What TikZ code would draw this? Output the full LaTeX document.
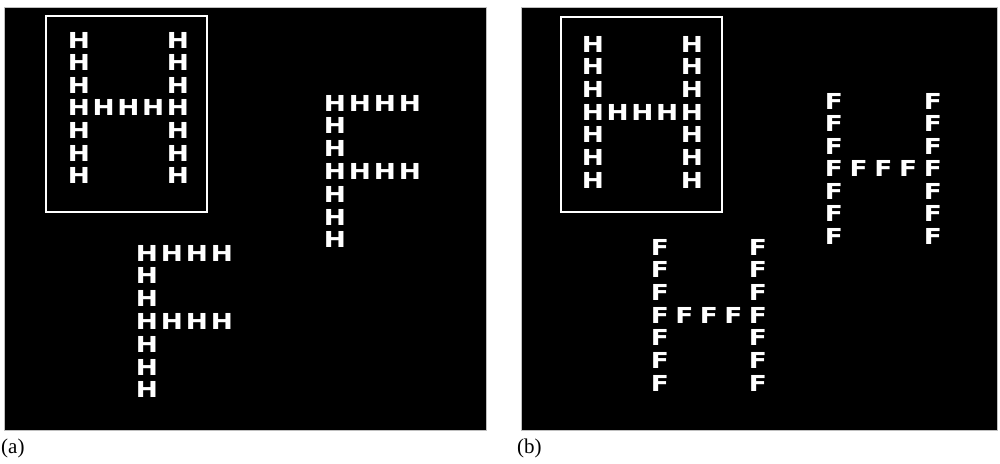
\documentclass[tikz,border=0pt]{standalone}
\usepackage{fontspec}
\newfontfamily\letterfont[FakeStretch=1.2]{DejaVu Sans Bold}
\newfontfamily\labelfont{Liberation Serif}
\begin{document}
\begin{tikzpicture}[x=1pt,y=-1pt,
  panel/.style={fill=black, draw=gray!50, line width=0.6pt},
  framebox/.style={draw=white, line width=2pt},
  ltr/.style={text=white, font=\letterfont\fontsize{22}{22}\selectfont, inner sep=0pt, anchor=center},
  lbl/.style={font=\labelfont\fontsize{21}{21}\selectfont, inner sep=0pt, anchor=west}]
\useasboundingbox (0,0) rectangle (1000,463);
\fill[white] (0,0) rectangle (1000,463);
% ---------- panel (a)
\draw[panel] (4,7) rectangle (486,430);
\draw[framebox] (46,16) rectangle (207,212);
% H made of H
\foreach \i in {0,...,6} {
  \node[ltr] (aHL\i) at ({79},{40+22.6*\i}) {H};
  \node[ltr] (aHR\i) at ({178},{40+22.6*\i}) {H};
}
\foreach \j in {1,2,3}
  \node[ltr] (aHM\j) at ({79+24.75*\j},{40+22.6*3}) {H};
% F made of H (right)
\foreach \i in {0,...,6}
  \node[ltr] (aFa\i) at ({335},{103+22.8*\i}) {H};
\foreach \j in {1,2,3} {
  \node[ltr] (aFaT\j) at ({335+25*\j},{103}) {H};
  \node[ltr] (aFaM\j) at ({335+25*\j},{103+22.8*3}) {H};
}
% F made of H (bottom)
\foreach \i in {0,...,6}
  \node[ltr] (aFb\i) at ({147},{253+22.8*\i}) {H};
\foreach \j in {1,2,3} {
  \node[ltr] (aFbT\j) at ({147+25*\j},{253}) {H};
  \node[ltr] (aFbM\j) at ({147+25*\j},{253+22.8*3}) {H};
}
\node[lbl] (la) at (1,448) {(a)};
% ---------- panel (b)
\draw[panel] (521,7) rectangle (997,430);
\draw[framebox] (561,17) rectangle (722,212);
% H made of H
\foreach \i in {0,...,6} {
  \node[ltr] (bHL\i) at ({593},{44+22.7*\i}) {H};
  \node[ltr] (bHR\i) at ({692},{44+22.7*\i}) {H};
}
\foreach \j in {1,2,3}
  \node[ltr] (bHM\j) at ({593+24.75*\j},{44+22.7*3}) {H};
% H made of F (right)
\foreach \i in {0,...,6} {
  \node[ltr] (bFL\i) at ({834},{101+22.5*\i}) {F};
  \node[ltr] (bFR\i) at ({933},{101+22.5*\i}) {F};
}
\foreach \j in {1,2,3}
  \node[ltr] (bFM\j) at ({834+24.75*\j},{101+22.5*3}) {F};
% H made of F (bottom)
\foreach \i in {0,...,6} {
  \node[ltr] (bGL\i) at ({660},{247+22.7*\i}) {F};
  \node[ltr] (bGR\i) at ({758},{247+22.7*\i}) {F};
}
\foreach \j in {1,2,3}
  \node[ltr] (bGM\j) at ({660+24.5*\j},{247+22.7*3}) {F};
\node[lbl] (lb) at (517,448) {(b)};
\end{tikzpicture}
\end{document}
